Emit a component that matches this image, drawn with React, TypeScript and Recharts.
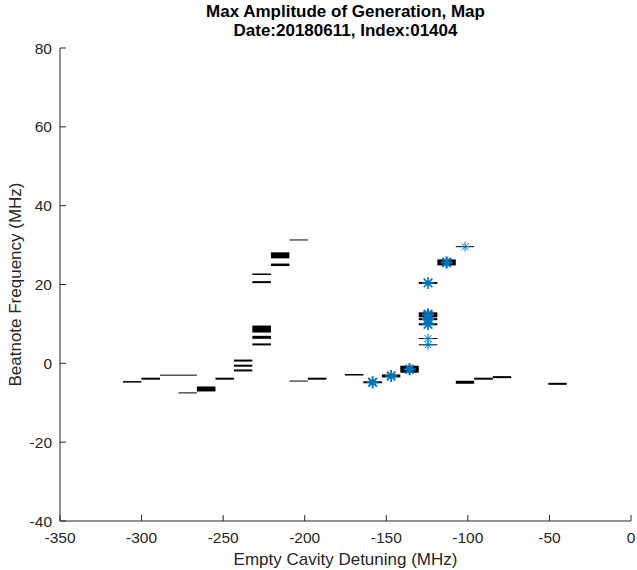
import { ComposedChart, Line, Scatter, XAxis, YAxis } from 'recharts';

// horizontal segments: start / end detuning (MHz), beatnote (MHz), stroke weight
const segStart = [
  -311.4, -300.1, -288.7, -277.4, -266.1, -254.7,
  -243.4, -243.4, -243.4,
  -232.1, -232.1, -232.1, -232.1, -232.1,
  -220.7, -220.7,
  -209.4, -209.4, -198.1,
  -175.4, -164.1, -152.7, -141.4,
  -130.1, -130.1, -130.1, -130.1, -130.1, -130.1,
  -118.7, -107.4, -107.4, -96.1, -84.7, -50.7,
];
const segEnd = [
  -300.1, -288.7, -266.1, -266.1, -254.7, -243.4,
  -232.1, -232.1, -232.1,
  -220.7, -220.7, -220.7, -220.7, -220.7,
  -209.4, -209.4,
  -198.1, -198.1, -186.7,
  -164.1, -152.7, -141.4, -130.1,
  -118.7, -118.7, -118.7, -118.7, -118.7, -118.7,
  -107.4, -96.1, -96.1, -84.7, -73.4, -39.4,
];
const segFreq = [
  -4.7, -3.9, -3.0, -7.5, -6.5, -3.9,
  0.7, -0.6, -1.8,
  8.7, 6.6, 4.8, 20.6, 22.6,
  27.4, 25.0,
  31.3, -4.5, -3.9,
  -2.9, -4.8, -3.2, -1.5,
  20.4, 12.3, 11.2, 9.9, 6.3, 4.7,
  25.6, 29.6, -4.8, -3.9, -3.5, -5.2,
];
const segWeight = [
  1.5, 2, 1, 1, 5, 2,
  2, 2, 2,
  7, 3, 2, 2, 1.5,
  6, 2.5,
  1, 1, 2,
  1.5, 2, 3, 7,
  2, 5, 2, 2, 1, 1,
  6, 1, 3, 2, 2, 2,
];

// peak markers: position and how heavy the overlapping marks look
const starX = [
  -158.4, -147.0, -135.7,
  -124.4, -124.4, -124.4, -124.4, -124.4, -124.4,
  -113.0, -101.7,
];
const starY = [
  -4.8, -3.2, -1.5,
  20.4, 12.4, 11.2, 9.9, 6.3, 4.7,
  25.6, 29.6,
];
const starWeight = [
  2, 1.8, 2.2,
  1.6, 2.2, 1.8, 1.6, 1, 1,
  2.2, 1,
];

const xTicks = [-350, -300, -250, -200, -150, -100, -50, 0];
const yTicks = [-40, -20, 0, 20, 40, 60, 80];

const AXIS = '#262626';
const BLUE = '#0072BD';
const FONT = '"Liberation Sans", Arial, Helvetica, sans-serif';

function Asterisk(props: any) {
  const { cx, cy, payload } = props;
  const w = payload.w;
  const r = w > 1.5 ? 6 : 4.8;
  const d = r * 0.72;
  return (
    <g stroke={BLUE} strokeWidth={w}>
      <line x1={cx - r} y1={cy} x2={cx + r} y2={cy} />
      <line x1={cx} y1={cy - r} x2={cx} y2={cy + r} />
      <line x1={cx - d} y1={cy - d} x2={cx + d} y2={cy + d} />
      <line x1={cx - d} y1={cy + d} x2={cx + d} y2={cy - d} />
      {w > 1.5 && <circle cx={cx} cy={cy} r={2.5} fill={BLUE} stroke="none" />}
    </g>
  );
}

export default function App() {
  const segments = segStart.map((s, i) => ({
    data: [
      { x: s, y: segFreq[i] },
      { x: segEnd[i], y: segFreq[i] },
    ],
    weight: segWeight[i],
  }));
  const stars = starX.map((x, i) => ({ x, y: starY[i], w: starWeight[i] }));

  return (
    <div style={{ position: 'absolute', left: 0, top: 0, width: 637, height: 570, background: '#fff', fontFamily: FONT }}>
      <div style={{ position: 'absolute', left: 0, width: 691, top: 2, textAlign: 'center', fontSize: 17, fontWeight: 700, lineHeight: '19px', color: '#000' }}>
        <div>Max Amplitude of Generation, Map</div>
        <div>Date:20180611, Index:01404</div>
      </div>
      <ComposedChart width={637} height={570} margin={{ top: 48, right: 6, left: 0, bottom: 0 }}>
        <XAxis
          type="number"
          dataKey="x"
          domain={[-350, 0]}
          ticks={xTicks}
          allowDataOverflow
          height={49}
          stroke={AXIS}
          tickSize={-6}
          tickMargin={17}
          tick={{ fill: AXIS, fontSize: 15.5, fontFamily: FONT }}
          label={{ value: 'Empty Cavity Detuning (MHz)', position: 'insideBottom', offset: 5, fill: AXIS, fontSize: 17, fontFamily: FONT }}
        />
        <YAxis
          type="number"
          dataKey="y"
          domain={[-40, 80]}
          ticks={yTicks}
          allowDataOverflow
          width={60}
          stroke={AXIS}
          tickSize={-6}
          tickMargin={14}
          tick={{ fill: AXIS, fontSize: 15.5, fontFamily: FONT }}
          label={{ value: 'Beatnote Frequency (MHz)', angle: -90, position: 'insideLeft', offset: 0, dx: 15, fill: AXIS, fontSize: 17, fontFamily: FONT, style: { textAnchor: 'middle' } }}
        />
        {segments.map((seg, i) => (
          <Line
            key={`seg-${i}`}
            data={seg.data}
            dataKey="y"
            type="linear"
            stroke="#000"
            strokeWidth={seg.weight}
            dot={false}
            activeDot={false}
            isAnimationActive={false}
          />
        ))}
        <Scatter data={stars} dataKey="y" shape={Asterisk} isAnimationActive={false} />
      </ComposedChart>
    </div>
  );
}
